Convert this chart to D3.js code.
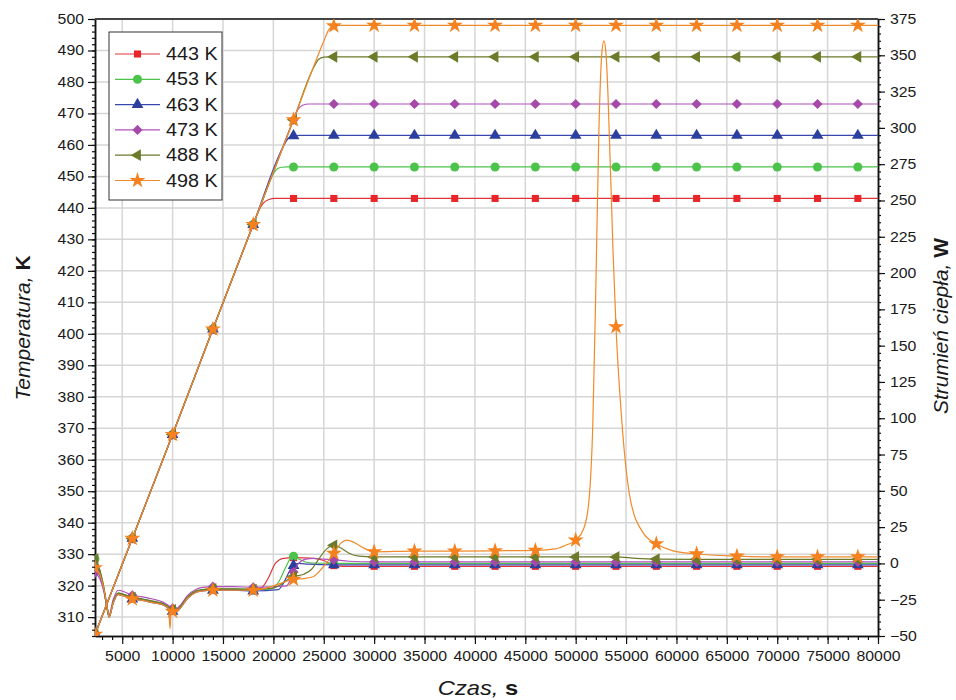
<!DOCTYPE html>
<html>
<head>
<meta charset="utf-8">
<script src="https://cdn.jsdelivr.net/npm/d3@7"></script>
<style>
body { margin: 0; background: #fff; }
text { font-family: "Liberation Sans", Arial, sans-serif; fill: #1a1a1a; }
</style>
</head>
<body>
<svg id="chart" width="956" height="700"></svg>
<script>
// time axis ticks and marker positions
var xTicks = [5000, 10000, 15000, 20000, 25000, 30000, 35000, 40000, 45000, 50000, 55000, 60000, 65000, 70000, 75000, 80000];
var tempTicks = [310, 320, 330, 340, 350, 360, 370, 380, 390, 400, 410, 420, 430, 440, 450, 460, 470, 480, 490, 500];
var heatTicks = [-50, -25, 0, 25, 50, 75, 100, 125, 150, 175, 200, 225, 250, 275, 300, 325, 350, 375];
var markerTimes = [2300, 6000, 10000, 14000, 18000, 22000, 26000, 30000, 34000, 38000, 42000, 46000, 50000, 54000, 58000, 62000, 66000, 70000, 74000, 78000];
var seriesNames = ["443 K", "453 K", "463 K", "473 K", "488 K", "498 K"];

// temperature [s, K]
var temp443 = [[2300,304.5],[6000,335],[10000,368],[14000,401.5],[18000,434.7],[18500,438.8],[19000,441.5],[19500,442.6],[20200,443],[22000,443],[26000,443],[30000,443],[34000,443],[38000,443],[42000,443],[46000,443],[50000,443],[54000,443],[58000,443],[62000,443],[66000,443],[70000,443],[74000,443],[78000,443],[80000,443]];
var temp453 = [[2300,304.5],[6000,335],[10000,368],[14000,401.5],[18000,434.7],[19000,443],[19800,449.6],[20300,452.2],[20800,452.9],[21400,453],[22000,453],[26000,453],[30000,453],[34000,453],[38000,453],[42000,453],[46000,453],[50000,453],[54000,453],[58000,453],[62000,453],[66000,453],[70000,453],[74000,453],[78000,453],[80000,453]];
var temp463 = [[2300,304.5],[6000,335],[10000,368],[14000,401.5],[18000,434.7],[21000,459.6],[21500,462.2],[22000,462.9],[22600,463],[26000,463],[30000,463],[34000,463],[38000,463],[42000,463],[46000,463],[50000,463],[54000,463],[58000,463],[62000,463],[66000,463],[70000,463],[74000,463],[78000,463],[80000,463]];
var temp473 = [[2300,304.5],[6000,335],[10000,368],[14000,401.5],[18000,434.7],[22000,468],[22400,471.1],[22900,472.6],[23500,473],[26000,473],[30000,473],[34000,473],[38000,473],[42000,473],[46000,473],[50000,473],[54000,473],[58000,473],[62000,473],[66000,473],[70000,473],[74000,473],[78000,473],[80000,473]];
var temp488 = [[2300,304.5],[6000,335],[10000,368],[14000,401.5],[18000,434.7],[22000,468],[24000,484.6],[24500,487.2],[25000,487.9],[25600,488],[26000,488],[30000,488],[34000,488],[38000,488],[42000,488],[46000,488],[50000,488],[54000,488],[58000,488],[62000,488],[66000,488],[70000,488],[74000,488],[78000,488],[80000,488]];
var temp498 = [[2300,304.5],[6000,335],[10000,368],[14000,401.5],[18000,434.7],[22000,468],[25000,492.9],[25500,496.6],[26000,497.8],[26600,498],[30000,498],[34000,498],[38000,498],[42000,498],[46000,498],[50000,498],[54000,498],[58000,498],[62000,498],[66000,498],[70000,498],[74000,498],[78000,498],[80000,498]];

// heat flow [s, W]
var heat443 = [[2300,-3],[2800,-8],[3200,-18],[3500,-30],[3700,-36.5],[4100,-27],[4600,-21],[5200,-22],[6000,-24],[7000,-25],[8000,-26.5],[9000,-28],[9700,-31],[10000,-32.5],[10300,-33],[10800,-30],[11500,-23.5],[12300,-19.5],[13000,-18.5],[14000,-18],[16000,-18],[18000,-18.5],[18800,-17],[19500,-10],[20200,0],[21000,3.5],[22000,4],[24000,3.5],[25000,2],[26000,-1.5],[27000,-2],[30000,-2],[34000,-2],[38000,-2],[42000,-2],[46000,-2],[50000,-2],[54000,-2],[58000,-2],[62000,-2],[66000,-2],[70000,-2],[74000,-2],[78000,-2],[80000,-2]];
var heat453 = [[2300,3],[2700,-3],[3100,-14],[3400,-28],[3700,-37],[4100,-27],[4600,-20.5],[5200,-21.5],[6000,-23.5],[7000,-24.5],[8000,-26],[9000,-27.5],[9700,-30.5],[10000,-32],[10300,-32.5],[10800,-29.5],[11500,-23],[12300,-19],[13000,-18],[14000,-17.5],[16000,-17.5],[18000,-18],[19800,-17.5],[20500,-13],[21200,-3],[21700,3.5],[22000,5],[22500,3],[23200,1],[24000,0.3],[26000,0],[30000,0],[34000,0],[38000,0],[42000,0],[46000,0],[50000,0],[54000,0],[58000,0],[62000,0],[66000,0],[70000,0],[74000,0],[78000,0],[80000,0]];
var heat463 = [[2300,-4],[2800,-9],[3200,-19],[3500,-31],[3700,-37],[4100,-27.5],[4600,-21.5],[5200,-22.5],[6000,-24.5],[7000,-25.5],[8000,-27],[9000,-28.5],[9700,-31.5],[10000,-33],[10300,-33.5],[10800,-30.5],[11500,-24],[12300,-20],[13000,-19],[14000,-18.5],[16000,-18.5],[18000,-19],[20500,-18],[21200,-11],[21700,-4],[22000,-1.5],[22500,0],[23500,-0.5],[26000,-1],[30000,-1],[34000,-1],[38000,-1],[42000,-1],[46000,-1],[50000,-1],[54000,-1],[58000,-1],[62000,-1],[66000,-1],[70000,-1],[74000,-1],[78000,-1],[80000,-1]];
var heat473 = [[2300,-6.5],[2800,-11],[3200,-20],[3500,-30],[3700,-35.5],[4100,-25],[4600,-18.5],[5200,-19.5],[6000,-22],[7000,-23],[8000,-24.5],[9000,-26.5],[9700,-29.5],[10000,-31],[10300,-31.5],[10800,-28.5],[11500,-22],[12300,-18],[13000,-16.5],[14000,-16],[16000,-16],[18000,-16.5],[21300,-15.5],[22000,-6],[22500,0],[23200,3],[24000,3.5],[25000,3],[26000,2.5],[27500,1.5],[30000,1],[34000,1],[38000,1],[42000,1],[46000,1],[50000,1],[54000,1],[58000,1],[62000,1],[66000,1],[70000,1],[74000,1],[78000,1],[80000,1]];
var heat488 = [[2300,3],[2800,-5],[3200,-17],[3500,-30],[3700,-36.5],[4100,-26.5],[4600,-20.5],[5200,-21.5],[6000,-23.5],[7000,-24.5],[8000,-26],[9000,-27.5],[9700,-30.5],[10000,-32],[10300,-32.5],[10800,-29.5],[11500,-23],[12300,-19],[13000,-18],[14000,-17.5],[16000,-17.5],[18000,-18],[20000,-17],[22000,-9],[23000,-7.5],[23800,-4],[24500,3],[25300,10],[26000,12.5],[26600,11],[27500,7],[28500,5],[30000,4.5],[34000,4.5],[38000,4.5],[42000,4.5],[46000,4.5],[50000,4.5],[54000,4.5],[56000,3.5],[58000,3],[62000,2.8],[66000,2.8],[70000,2.8],[74000,2.8],[78000,2.8],[80000,2.8]];
var heat498 = [[2300,-3],[2800,-8],[3200,-18],[3500,-30],[3700,-37],[4100,-27.5],[4600,-21.5],[5200,-22.5],[6000,-24.5],[7000,-25.5],[8000,-27],[9000,-28.5],[9600,-31],[9750,-45],[9850,-32],[10000,-33],[10300,-33.5],[10800,-30.5],[11500,-24],[12300,-20],[13000,-19],[14000,-18.5],[16000,-18.5],[18000,-18.5],[19000,-17.5],[20000,-15.5],[21000,-13],[22000,-11],[23000,-10.5],[24000,-9],[25000,-2],[26000,7],[26700,14],[27300,16],[28000,14.5],[29000,10.5],[30000,8],[34000,8.5],[38000,8.5],[42000,8.7],[46000,9],[48000,10],[49000,12.5],[50000,16],[50800,24],[51300,42],[51700,96],[52000,190],[52300,297],[52600,352],[52800,360],[53000,352],[53200,324],[53700,216],[54000,163],[54600,96],[55400,45],[56700,21],[58000,13.5],[59500,9],[62000,6.5],[66000,5],[70000,4.5],[74000,4.5],[78000,4.5],[80000,4.5]];

var svgWidth = 956, svgHeight = 700;
var margin = { top: 19, right: 78, bottom: 64, left: 95 },
    width = svgWidth - margin.left - margin.right,
    height = svgHeight - margin.top - margin.bottom;
var stretch = 1.13; // the source picture is a little wider than tall

var colors = ["#e0343a", "#4cc24c", "#3a48ae", "#b050bc", "#6b7b2a", "#f08a2a"];
var markerFill = ["#e8262a", "#4cc44c", "#2c3f9e", "#a54aa8", "#6b7b2a", "#f5821f"];
var symbols = [
    { type: d3.symbolSquare, size: 50, rot: 0 },
    { type: d3.symbolCircle, size: 64, rot: 0 },
    { type: d3.symbolTriangle, size: 60, rot: 0 },
    { type: d3.symbolSquare, size: 52, rot: 45 },
    { type: d3.symbolTriangle, size: 60, rot: -90 },
    { type: d3.symbolStar, size: 80, rot: 0 }
];
var temps = [temp443, temp453, temp463, temp473, temp488, temp498];
var heats = [heat443, heat453, heat463, heat473, heat488, heat498];

var svg = d3.select("#chart");
var x = d3.scaleLinear().domain([2300, 80000]).range([0, width]);
var yT = d3.scaleLinear().domain([304, 500]).range([height, 0]);
var yQ = d3.scaleLinear().domain([-50, 375]).range([height, 0]);

var g = svg.append("g").attr("transform", `translate(${margin.left},${margin.top})`);

svg.append("defs").append("clipPath").attr("id", "clip")
    .append("rect").attr("width", width).attr("height", height);

// grid
g.append("g").selectAll("line").data(xTicks.slice(0, -1)).enter().append("line")
    .attr("x1", d => x(d)).attr("x2", d => x(d)).attr("y1", 0).attr("y2", height)
    .attr("stroke", "#d6d6d6").attr("stroke-width", 1.5);
g.append("g").selectAll("line").data(tempTicks.slice(0, -1)).enter().append("line")
    .attr("x1", 0).attr("x2", width).attr("y1", d => yT(d)).attr("y2", d => yT(d))
    .attr("stroke", "#d6d6d6").attr("stroke-width", 1.5);

// axes
function styleAxis(sel) {
    sel.selectAll("path.domain").attr("stroke", "#111").attr("stroke-width", 1.5);
    sel.selectAll(".tick line").attr("stroke", "#111").attr("stroke-width", 1.2);
    sel.selectAll("text").attr("font-size", 14).attr("fill", "#1a1a1a").attr("class", "stretch")
        .attr("font-family", "'Liberation Sans', Arial, sans-serif");
}
g.append("g").call(d3.axisLeft(yT).tickValues(d3.range(304, 501, 2)).tickSize(3).tickFormat("").tickSizeOuter(0)).call(styleAxis);
g.append("g").call(d3.axisLeft(yT).tickValues(tempTicks).tickSize(7).tickPadding(4).tickSizeOuter(0)).call(styleAxis);
g.append("g").attr("transform", `translate(${width},0)`)
    .call(d3.axisRight(yQ).tickValues(d3.range(-50, 376, 5)).tickSize(3).tickFormat("").tickSizeOuter(0)).call(styleAxis);
g.append("g").attr("transform", `translate(${width},0)`)
    .call(d3.axisRight(yQ).tickValues(heatTicks).tickSize(7).tickPadding(5).tickSizeOuter(0)).call(styleAxis);
g.append("g").attr("transform", `translate(0,${height})`)
    .call(d3.axisBottom(x).tickValues(d3.range(3000, 80001, 1000)).tickSize(4).tickFormat("").tickSizeOuter(0)).call(styleAxis);
g.append("g").attr("transform", `translate(0,${height})`)
    .call(d3.axisBottom(x).tickValues(xTicks).tickSize(8).tickPadding(7).tickFormat(d3.format("d")).tickSizeOuter(0)).call(styleAxis);

// top frame
g.append("line").attr("x1", 0).attr("x2", width).attr("y1", 0).attr("y2", 0)
    .attr("stroke", "#444").attr("stroke-width", 2);

// series
var plot = g.append("g").attr("clip-path", "url(#clip)");
var lineT = d3.line().x(d => x(d[0])).y(d => yT(d[1])).curve(d3.curveMonotoneX);
var lineQ = d3.line().x(d => x(d[0])).y(d => yQ(d[1])).curve(d3.curveMonotoneX);

function marker(i) {
    return d3.symbol().type(symbols[i].type).size(symbols[i].size)();
}

for (var i = 0; i < 6; i++) {
    plot.append("path").datum(temps[i]).attr("d", lineT)
        .attr("fill", "none").attr("stroke", colors[i]).attr("stroke-width", 1.2);
    plot.append("path").datum(heats[i]).attr("d", lineQ)
        .attr("fill", "none").attr("stroke", colors[i]).attr("stroke-width", 1.2);
    var mT = temps[i].filter(d => markerTimes.includes(d[0]));
    var mQ = heats[i].filter(d => markerTimes.includes(d[0]));
    plot.append("g").selectAll("path").data(mT).enter().append("path")
        .attr("d", marker(i)).attr("fill", markerFill[i])
        .attr("transform", d => `translate(${x(d[0])},${yT(d[1])}) rotate(${symbols[i].rot})`);
    plot.append("g").selectAll("path").data(mQ).enter().append("path")
        .attr("d", marker(i)).attr("fill", markerFill[i])
        .attr("transform", d => `translate(${x(d[0])},${yQ(d[1])}) rotate(${symbols[i].rot})`);
}

// legend
var legend = svg.append("g").attr("transform", "translate(109,32)");
legend.append("rect").attr("width", 113).attr("height", 168)
    .attr("fill", "#fff").attr("stroke", "#333").attr("stroke-width", 1);
seriesNames.forEach(function (name, i) {
    var row = legend.append("g").attr("transform", `translate(0,${22 + i * 25.3})`);
    row.append("line").attr("x1", 6).attr("x2", 51).attr("stroke", colors[i]).attr("stroke-width", 1.2);
    row.append("path").attr("d", marker(i)).attr("fill", markerFill[i])
        .attr("transform", `translate(28.5,0) rotate(${symbols[i].rot})`);
    row.append("text").attr("class", "stretch").attr("x", 57).attr("y", 6).attr("font-size", 17.5).text(name);
});

// titles
var tl = svg.append("text").attr("transform", "translate(30,328) rotate(-90)")
    .attr("text-anchor", "middle").attr("font-size", 21);
tl.append("tspan").attr("font-style", "italic").text("Temperatura, ");
tl.append("tspan").attr("font-weight", "bold").text("K");

var tr = svg.append("text").attr("transform", "translate(948,326) rotate(-90)")
    .attr("text-anchor", "middle").attr("font-size", 21);
tr.append("tspan").attr("font-style", "italic").text("Strumień ciepła, ");
tr.append("tspan").attr("font-weight", "bold").text("W");

var tb = svg.append("text").attr("class", "stretch").attr("x", 478).attr("y", 695)
    .attr("text-anchor", "middle").attr("font-size", 21);
tb.append("tspan").attr("font-style", "italic").text("Czas, ");
tb.append("tspan").attr("font-weight", "bold").text("s");

// widen horizontal text to match the source's proportions
svg.selectAll("text.stretch").each(function () {
    var w = this.getComputedTextLength();
    if (w > 0) d3.select(this).attr("textLength", w * stretch).attr("lengthAdjust", "spacingAndGlyphs");
});
</script>
</body>
</html>
